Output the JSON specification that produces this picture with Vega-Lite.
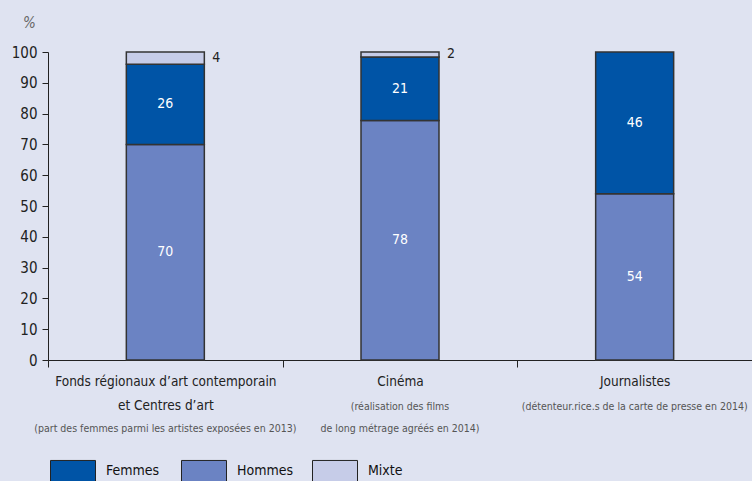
{
  "$schema": "https://vega.github.io/schema/vega-lite/v6.json",
  "autosize": {"type": "none"},
  "padding": {"left": 48, "top": 52, "right": 0, "bottom": 121},
  "width": 704,
  "height": 308,
  "background": "#dfe3f1",
  "config": {
    "view": {"stroke": null},
    "font": "DejaVu Sans Condensed, sans-serif",
    "text": {"font": "DejaVu Sans Condensed, sans-serif"},
    "axisY": {
      "labelOverlap": false,
      "grid": false, "domainColor": "#222222", "tickColor": "#222222", "tickSize": 6,
      "labelFontSize": 15, "labelColor": "#222222", "labelPadding": 5,
      "titleAngle": 0, "titleX": -19, "titleY": -30,
      "titleAlign": "center", "titleBaseline": "middle",
      "titleFontStyle": "italic", "titleFontWeight": "normal", "titleFontSize": 15, "titleColor": "#666666"
    }
  },
  "data": {
    "values": [
      {"cat": "Fonds régionaux d’art contemporain et Centres d’art", "groupe": "Hommes", "pct": 70, "ordre": 1},
      {"cat": "Fonds régionaux d’art contemporain et Centres d’art", "groupe": "Femmes", "pct": 26, "ordre": 2},
      {"cat": "Fonds régionaux d’art contemporain et Centres d’art", "groupe": "Mixte", "pct": 4, "ordre": 3},
      {"cat": "Cinéma", "groupe": "Hommes", "pct": 77.8, "ordre": 1},
      {"cat": "Cinéma", "groupe": "Femmes", "pct": 20.6, "ordre": 2},
      {"cat": "Cinéma", "groupe": "Mixte", "pct": 1.6, "ordre": 3},
      {"cat": "Journalistes", "groupe": "Hommes", "pct": 54, "ordre": 1},
      {"cat": "Journalistes", "groupe": "Femmes", "pct": 46, "ordre": 2}
    ]
  },
  "transform": [
    {"stack": "pct", "groupby": ["cat"], "sort": [{"field": "ordre", "order": "ascending"}], "as": ["y0", "y1"]},
    {"calculate": "(datum.y0 + datum.y1) / 2", "as": "mid"}
  ],
  "layer": [
    {
      "mark": {"type": "bar", "width": 78, "stroke": "#333333", "strokeWidth": 1.5},
      "encoding": {
        "x": {
          "field": "cat", "type": "nominal", "sort": null,
          "scale": {"paddingInner": 0, "paddingOuter": 0},
          "axis": {
            "orient": "bottom", "title": null, "labelAngle": 0,
            "domainColor": "#222222", "tickColor": "#222222", "tickSize": 7, "tickBand": "extent",
            "labelFontSize": 13.5, "labelColor": "#222222", "labelPadding": 7, "labelLineHeight": 24,
            "labelBaseline": "top", "labelLimit": 0,
            "labelExpr": "datum.value == 'Fonds régionaux d’art contemporain et Centres d’art' ? ['Fonds régionaux d’art contemporain', 'et Centres d’art'] : datum.value"
          }
        },
        "y": {
          "field": "y0", "type": "quantitative",
          "scale": {"domain": [0, 100]},
          "axis": {"title": "%", "values": [0, 10, 20, 30, 40, 50, 60, 70, 80, 90, 100]}
        },
        "y2": {"field": "y1"},
        "color": {
          "field": "groupe", "type": "nominal",
          "scale": {"domain": ["Femmes", "Hommes", "Mixte"], "range": ["#0054a6", "#6b83c3", "#c6cce8"]},
          "legend": {
            "title": null, "orient": "none", "legendX": 2, "legendY": 396,
            "direction": "horizontal", "columns": 3, "gridAlign": "all",
            "symbolType": "M-1,-0.49H1V0.49H-1Z", "symbolSize": 2025,
            "symbolStrokeColor": "#222222", "symbolStrokeWidth": 1, "symbolOpacity": 1,
            "labelFontSize": 14, "labelColor": "#111111", "labelOffset": 10, "columnPadding": 16,
            "labelFont": "DejaVu Sans Condensed, sans-serif"
          }
        }
      }
    },
    {
      "transform": [{"filter": "datum.groupe != 'Mixte'"}],
      "mark": {"type": "text", "color": "white", "fontSize": 14, "align": "center", "baseline": "middle"},
      "encoding": {
        "x": {
          "field": "cat", "type": "nominal", "sort": null,
          "axis": {
            "orient": "bottom", "title": null, "labelAngle": 0, "domain": false, "ticks": false, "tickSize": 0,
            "labelFontSize": 10.5, "labelColor": "#555555", "labelPadding": 41, "labelLineHeight": 22,
            "labelBaseline": "top", "labelLimit": 0,
            "labelExpr": "datum.value == 'Cinéma' ? ['(réalisation des films', 'de long métrage agréés en 2014)'] : datum.value == 'Journalistes' ? '(détenteur.rice.s de la carte de presse en 2014)' : [' ', '(part des femmes parmi les artistes exposées en 2013)']"
          }
        },
        "y": {"field": "mid", "type": "quantitative", "axis": {"title": "%", "values": [0, 10, 20, 30, 40, 50, 60, 70, 80, 90, 100]}},
        "text": {"field": "pct", "type": "quantitative", "format": ".0f"}
      }
    },
    {
      "transform": [{"filter": "datum.groupe == 'Mixte'"}],
      "mark": {"type": "text", "color": "#222222", "fontSize": 14, "align": "left", "baseline": "middle", "dx": 47},
      "encoding": {
        "x": {"field": "cat", "type": "nominal", "sort": null, "axis": null},
        "y": {"field": "mid", "type": "quantitative", "axis": {"title": "%", "values": [0, 10, 20, 30, 40, 50, 60, 70, 80, 90, 100]}},
        "text": {"field": "pct", "type": "quantitative", "format": ".0f"}
      }
    }
  ],
  "resolve": {"axis": {"x": "independent"}}
}
